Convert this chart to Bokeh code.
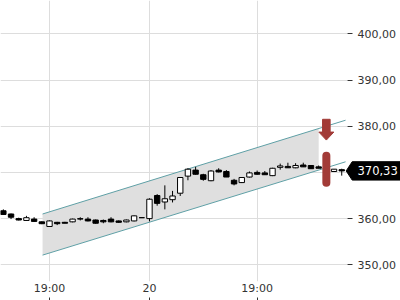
from bokeh.plotting import figure
from bokeh.models import Range1d, LinearAxis, FixedTicker, Grid
from bokeh.core.properties import value
from bokeh.embed import file_html
from bokeh.resources import INLINE
import numpy as np

# ---- data ----
opens  = [361.7, 361.0, 360.0, 359.6, 359.9, 359.3, 358.3, 359.2, 359.2, 359.3,
          359.9, 359.9, 359.7, 359.6, 359.9, 359.5, 359.3, 359.5, 360.2, 360.0,
          365.0, 363.6, 364.1, 365.5, 369.2, 370.5, 369.5, 368.2, 370.5, 370.2,
          368.3, 367.8, 369.0, 370.0, 369.9, 369.3, 371.1, 371.3, 371.0, 371.6,
          371.5, 371.2, 371.2, 370.2, 370.6]
highs  = [362.0, 361.1, 360.2, 360.6, 360.3, 359.4, 359.6, 359.3, 359.3, 360.0,
          360.3, 360.3, 359.8, 359.8, 360.3, 359.6, 359.8, 360.7, 360.25, 364.4,
          365.3, 367.2, 366.0, 369.0, 370.9, 371.2, 369.7, 370.5, 370.9, 370.5,
          368.6, 369.0, 370.2, 370.4, 370.3, 371.0, 371.9, 372.1, 372.0, 372.1,
          371.6, 371.5, 371.3, 370.7, 370.8]
lows   = [360.8, 359.9, 359.6, 359.5, 359.3, 358.8, 358.2, 358.6, 359.0, 359.2,
          359.6, 359.4, 358.9, 359.0, 359.2, 359.1, 359.2, 359.4, 360.15, 359.4,
          362.8, 362.0, 363.5, 364.9, 368.3, 369.5, 368.2, 368.1, 370.0, 369.0,
          367.2, 367.7, 368.9, 369.5, 369.5, 369.2, 370.6, 371.0, 370.9, 371.2,
          370.8, 370.9, 370.2, 370.1, 369.3]
closes = [360.9, 360.3, 359.7, 360.2, 359.4, 358.9, 359.5, 358.9, 359.0, 359.9,
          360.0, 359.5, 359.0, 359.3, 359.3, 359.2, 359.7, 360.6, 360.2, 364.2,
          363.3, 364.3, 364.9, 368.9, 370.7, 369.6, 368.5, 370.3, 370.1, 369.0,
          367.5, 368.9, 369.9, 369.6, 369.5, 370.9, 371.4, 371.0, 371.5, 371.2,
          370.8, 370.9, 370.2, 370.7, 370.33]

x_tick_pos = [6, 19, 33]
x_tick_labels = ["19:00", "20", "19:00"]
y_ticks = [350, 360, 370, 380, 390, 400]
y_tick_labels = ["350,00", "360,00", "370,00", "380,00", "390,00", "400,00"]

# regression channel: start/end index, values, end of shaded part
chan_x = [5.1, 44.5]
chan_upper = [361.0, 381.3]
chan_lower = [352.1, 372.3]
chan_fill_end = 41.0

# signals
signal_x = 42
arrow_top = 381.5
arrow_tip = 377.0
bar_top = 374.5
bar_bottom = 366.9

last_price = closes[-1]
last_label = "370,33"

# ---- figure ----
X0, X1 = -0.371, 44.75
Y0, Y1 = 346.39, 407.21
FW, FH = 347, 281
p = figure(width=400, height=300, output_backend="svg", toolbar_location=None,
           x_axis_location=None, y_axis_location=None,
           x_range=Range1d(X0, X1), y_range=Range1d(Y0, Y1),
           min_border_left=0, min_border_top=0, min_border_right=400 - FW,
           min_border_bottom=300 - FH, outline_line_color=None,
           background_fill_color="white", border_fill_color="white")
# drop the default grids created by figure()
p.center = [r for r in p.center if not isinstance(r, Grid)]

FONT = "DejaVu Sans"
TXT = "#333333"

yax = LinearAxis(ticker=FixedTicker(ticks=y_ticks),
                 major_label_overrides={t: l for t, l in zip(y_ticks, y_tick_labels)},
                 axis_line_color=None, major_tick_in=0, major_tick_out=5,
                 major_tick_line_color=TXT, minor_tick_line_color=None,
                 major_label_standoff=5, major_label_text_font=FONT,
                 major_label_text_font_size="11px", major_label_text_color=TXT)
p.add_layout(yax, "right")

xax = LinearAxis(ticker=FixedTicker(ticks=x_tick_pos),
                 major_label_overrides={t: l for t, l in zip(x_tick_pos, x_tick_labels)},
                 axis_line_color=None, major_tick_in=0, major_tick_out=0,
                 major_tick_line_color=None, minor_tick_line_color=None,
                 major_label_standoff=0, major_label_text_font=FONT,
                 major_label_text_font_size="11px", major_label_text_color=TXT)
p.add_layout(xax, "below")
xax2 = LinearAxis(ticker=FixedTicker(ticks=x_tick_pos),
                  major_label_overrides={t: "" for t in x_tick_pos},
                  axis_line_color=None, major_tick_in=0, major_tick_out=3,
                  major_tick_line_color=TXT, minor_tick_line_color=None,
                  major_label_standoff=0, major_label_text_font_size="1px")
p.add_layout(xax2, "below")

p.add_layout(Grid(dimension=0, ticker=xax.ticker, grid_line_color="#dddddd"))
p.add_layout(Grid(dimension=1, ticker=yax.ticker, grid_line_color="#dddddd"))

# channel fill + lines
fx = [chan_x[0], chan_fill_end]
fu = list(np.interp(fx, chan_x, chan_upper))
fl = list(np.interp(fx, chan_x, chan_lower))
p.varea(x=fx, y1=fl, y2=fu, fill_color="#dfdfdf")
p.line(chan_x, chan_upper, line_color="#5fa0a6", line_width=1)
p.line(chan_x, chan_lower, line_color="#5fa0a6", line_width=1)

# candles
idx = list(range(len(opens)))
p.segment(x0=idx, y0=lows, x1=idx, y1=highs, line_color="black", line_width=1)
tops = [max(o, c) for o, c in zip(opens, closes)]
bots = [min(o, c) for o, c in zip(opens, closes)]
fills = ["white" if c > o else "black" for o, c in zip(opens, closes)]
p.vbar(x=idx, width=0.7, top=tops, bottom=bots, fill_color=fills,
       line_color="black", line_width=1)

# signals
RED = "#a23b37"
ppu_y = FH / (Y1 - Y0)
ppu_x = FW / (X1 - X0)
cap = 4 / ppu_y
p.segment(x0=[signal_x], y0=[bar_top - cap], x1=[signal_x], y1=[bar_bottom + cap],
          line_color=RED, line_width=8, line_cap="round")
sw = 3.8 / ppu_x
hw = 7.5 / ppu_x
neck = arrow_tip + 8 / ppu_y
p.patch([signal_x - sw, signal_x + sw, signal_x + sw, signal_x + hw, signal_x,
         signal_x - hw, signal_x - sw],
        [arrow_top, arrow_top, neck, neck, arrow_tip, neck, neck],
        fill_color=RED, line_color=RED)

# last-price tag in the right margin (overlay level so it is not clipped)
half = 9.2 / ppu_y
tip_x = X1 - 1.3 / ppu_x
body_x = tip_x + 6 / ppu_x
right_x = X1 + 60 / ppu_x
p.patch([tip_x, body_x, right_x, right_x, body_x],
        [last_price, last_price + half, last_price + half,
         last_price - half, last_price - half],
        fill_color="black", line_color="black", level="overlay")
p.text(x=[X1 + 10 / ppu_x], y=[last_price], text=[last_label],
       text_color="white", text_font=value(FONT), text_font_size="11.5px",
       text_baseline="middle", text_align="left", level="overlay")

open("out.html", "w").write(file_html(p, INLINE))
